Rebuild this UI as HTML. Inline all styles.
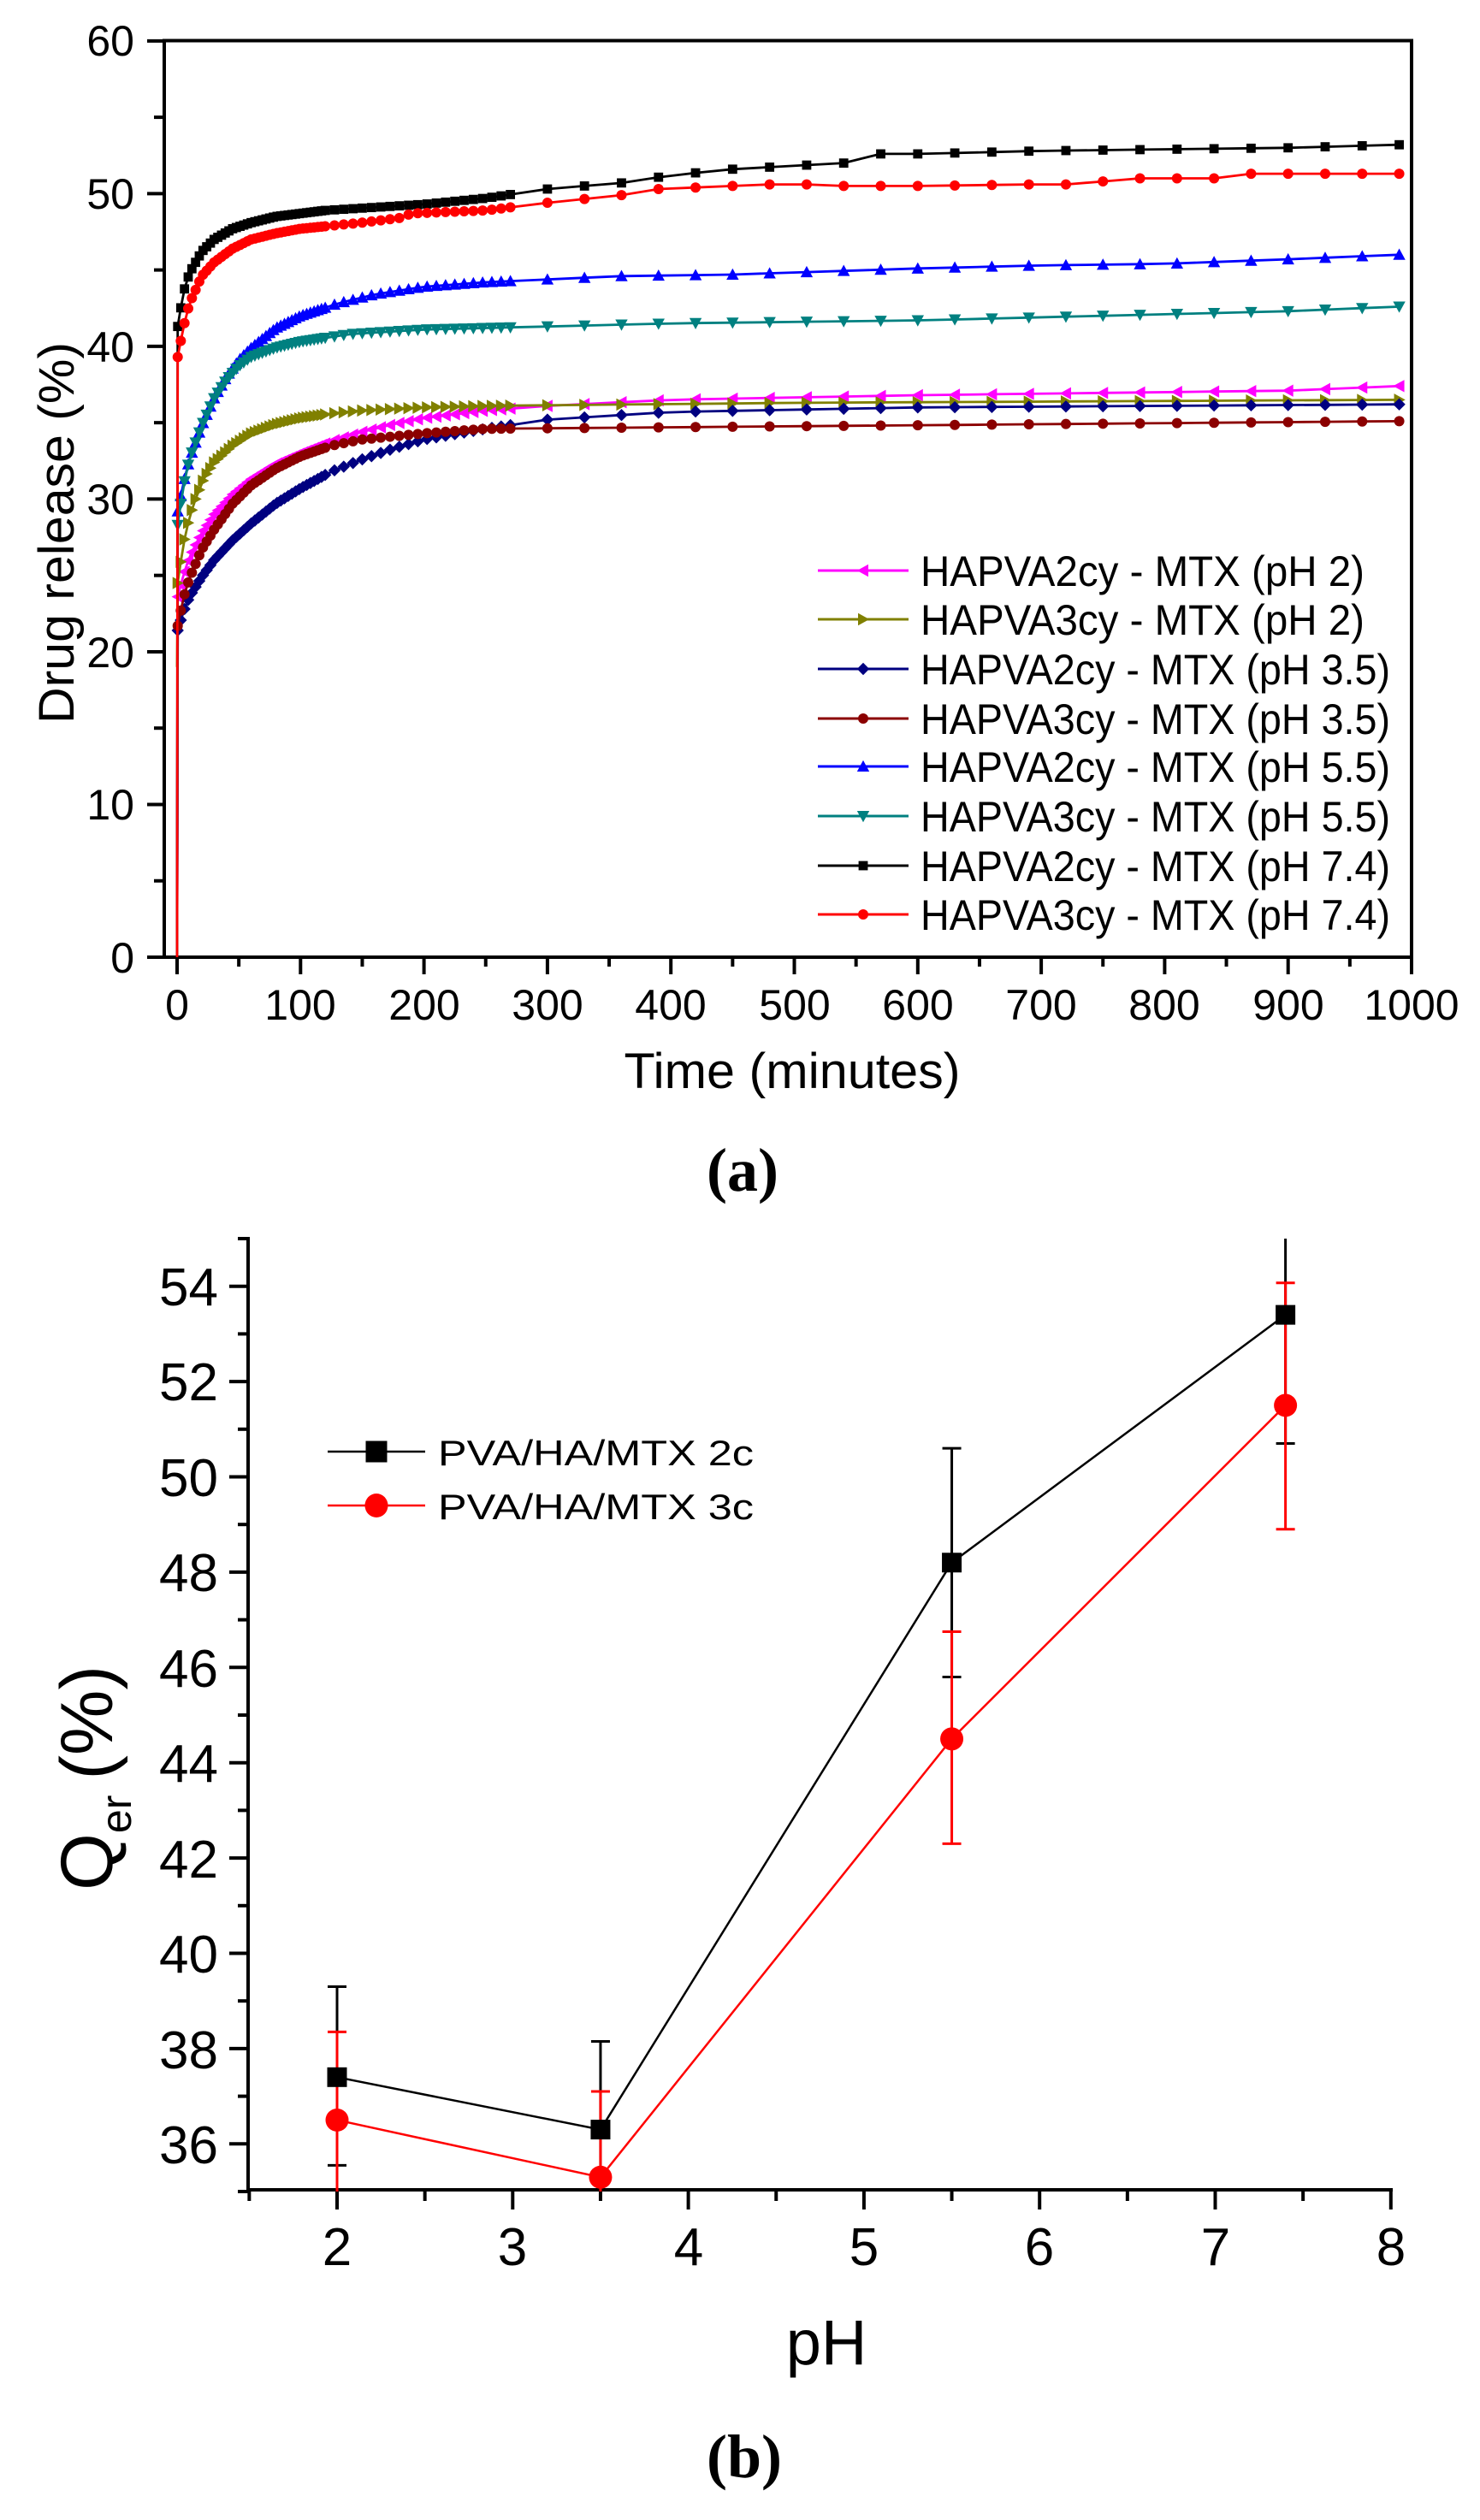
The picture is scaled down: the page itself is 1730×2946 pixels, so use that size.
<!DOCTYPE html>
<html><head><meta charset="utf-8"><style>html,body{margin:0;padding:0;background:#fff}svg{display:block}</style></head>
<body>
<svg id="s" xmlns="http://www.w3.org/2000/svg" width="1730" height="2946" viewBox="0 0 1730 2946" font-family="Liberation Sans, Arial, sans-serif">
<rect width="1730" height="2946" fill="#fff"/>
<g id="top"></g>
<g id="bot"></g>
<g font-size="50" fill="#000" text-anchor="end">
<text x="157" y="1137">0</text><text x="157" y="958">10</text><text x="157" y="780">20</text>
<text x="157" y="601">30</text><text x="157" y="423">40</text><text x="157" y="244">50</text><text x="157" y="65">60</text>
</g>
<g font-size="50" fill="#000" text-anchor="middle">
<text x="207" y="1192">0</text><text x="351" y="1192">100</text><text x="496" y="1192">200</text>
<text x="640" y="1192">300</text><text x="784" y="1192">400</text><text x="929" y="1192">500</text>
<text x="1073" y="1192">600</text><text x="1217" y="1192">700</text><text x="1361" y="1192">800</text>
<text x="1506" y="1192">900</text><text x="1650" y="1192">1000</text>
</g>
<text x="926" y="1272" font-size="58" text-anchor="middle" textLength="393" lengthAdjust="spacingAndGlyphs">Time (minutes)</text>
<text transform="translate(86,623) rotate(-90)" font-size="58" text-anchor="middle" textLength="446" lengthAdjust="spacingAndGlyphs">Drug release (%)</text>
<text x="868" y="1392" font-family="Liberation Serif, serif" font-size="72" font-weight="bold" text-anchor="middle">(a)</text>
<g font-size="50" fill="#000">
<text x="1076" y="685" textLength="519" lengthAdjust="spacingAndGlyphs">HAPVA2cy - MTX (pH 2)</text>
<text x="1076" y="742" textLength="519" lengthAdjust="spacingAndGlyphs">HAPVA3cy - MTX (pH 2)</text>
<text x="1076" y="800" textLength="549" lengthAdjust="spacingAndGlyphs">HAPVA2cy - MTX (pH 3.5)</text>
<text x="1076" y="858" textLength="549" lengthAdjust="spacingAndGlyphs">HAPVA3cy - MTX (pH 3.5)</text>
<text x="1076" y="914" textLength="549" lengthAdjust="spacingAndGlyphs">HAPVA2cy - MTX (pH 5.5)</text>
<text x="1076" y="972" textLength="549" lengthAdjust="spacingAndGlyphs">HAPVA3cy - MTX (pH 5.5)</text>
<text x="1076" y="1030" textLength="549" lengthAdjust="spacingAndGlyphs">HAPVA2cy - MTX (pH 7.4)</text>
<text x="1076" y="1087" textLength="549" lengthAdjust="spacingAndGlyphs">HAPVA3cy - MTX (pH 7.4)</text>
</g>
<g font-size="62" fill="#000" text-anchor="end">
<text x="255" y="2529">36</text><text x="255" y="2418">38</text><text x="255" y="2306">40</text>
<text x="255" y="2195">42</text><text x="255" y="2083">44</text><text x="255" y="1972">46</text>
<text x="255" y="1860">48</text><text x="255" y="1749">50</text><text x="255" y="1637">52</text><text x="255" y="1526">54</text>
</g>
<g font-size="62" fill="#000" text-anchor="middle">
<text x="394" y="2648">2</text><text x="599" y="2648">3</text><text x="805" y="2648">4</text>
<text x="1010" y="2648">5</text><text x="1215" y="2648">6</text><text x="1421" y="2648">7</text><text x="1626" y="2648">8</text>
</g>
<text x="966" y="2764" font-size="74" text-anchor="middle">pH</text>
<text transform="translate(131,2210) rotate(-90)" font-size="86">Q<tspan font-size="50" dy="22">er</tspan><tspan dy="-22" dx="18">(%)</tspan></text>
<text x="870" y="2896" font-family="Liberation Serif, serif" font-size="72" font-weight="bold" text-anchor="middle">(b)</text>
<g font-size="42" fill="#000">
<text x="512" y="1713" textLength="369" lengthAdjust="spacingAndGlyphs">PVA/HA/MTX 2c</text>
<text x="512" y="1776" textLength="369" lengthAdjust="spacingAndGlyphs">PVA/HA/MTX 3c</text>
</g>
</svg>
<script>
(function(){
var NS="http://www.w3.org/2000/svg";
function el(p,n,a){var e=document.createElementNS(NS,n);for(var k in a)e.setAttribute(k,a[k]);p.appendChild(e);return e;}
var top=document.getElementById("top"), bot=document.getElementById("bot");
function X(t){return 207+t*1.443;} function Y(v){return 1119-v*17.853;}
el(top,"rect",{x:192,y:47.5,width:1458,height:1071.5,fill:"none",stroke:"#000","stroke-width":4});
for(var v=0;v<=60;v+=5){var maj=v%10==0;el(top,"line",{x1:maj?172:180,x2:192,y1:Y(v),y2:Y(v),stroke:"#000","stroke-width":4});}
for(var t=0;t<=1000;t+=50){var maj=t%100==0;el(top,"line",{x1:X(t),x2:X(t),y1:1119,y2:maj?1139:1130,stroke:"#000","stroke-width":4});}
var S=[
 {c:"#ff00ff",m:"tl",k:[[0,0],[0.5,23.6],[5,25],[10,26.2],[20,27.8],[30,29],[45,30.3],[60,31.3],[80,32.3],[100,33],[125,33.8],[150,34.4],[175,34.9],[200,35.3],[250,35.8],[300,36.1],[400,36.5],[600,36.8],[800,37.0],[900,37.1],[990,37.4]]},
 {c:"#808000",m:"tr",k:[[0,19],[0.5,24.5],[5,27],[10,28.8],[15,30],[22,31.4],[30,32.4],[45,33.5],[60,34.3],[80,34.9],[100,35.3],[125,35.6],[150,35.8],[200,36.0],[250,36.1],[500,36.3],[990,36.5]]},
 {c:"#000080",m:"d",k:[[0,0],[0.5,21.4],[5,22.6],[10,23.6],[20,24.9],[30,26],[45,27.3],[60,28.4],[80,29.7],[100,30.7],[125,31.8],[150,32.6],[175,33.3],[200,33.9],[250,34.6],[300,35.2],[400,35.7],[600,36.0],[990,36.2]]},
 {c:"#8b0000",m:"c",k:[[0,0],[0.5,21.7],[5,23.5],[10,24.8],[20,26.7],[30,28],[45,29.7],[60,30.9],[80,32],[100,32.8],[125,33.5],[150,33.9],[200,34.3],[250,34.6],[400,34.7],[700,34.9],[990,35.1]]},
 {c:"#0000ff",m:"tu",k:[[0,0],[0.5,29.2],[5,31],[10,32.6],[20,34.8],[30,36.6],[40,38],[50,39.1],[60,39.9],[80,41.2],[100,42],[130,42.8],[160,43.4],[200,43.9],[250,44.2],[360,44.6],[450,44.7],[600,45.1],[700,45.3],[800,45.4],[900,45.7],[990,46.0]]},
 {c:"#008080",m:"td",k:[[0,0],[0.5,28.3],[5,30.8],[10,32.6],[20,34.8],[30,36.6],[40,37.8],[50,38.7],[60,39.3],[80,39.9],[100,40.3],[140,40.8],[200,41.1],[300,41.3],[400,41.5],[600,41.7],[800,42.1],[900,42.3],[990,42.6]]},
 {c:"#000000",m:"s",k:[[0,0],[0.5,41.3],[5,43.5],[10,44.8],[20,46.2],[30,47],[45,47.7],[60,48.1],[80,48.5],[100,48.7],[120,48.9],[200,49.3],[250,49.7],[300,50.3],[360,50.7],[400,51.2],[450,51.6],[540,52.0],[570,52.6],[600,52.6],[700,52.8],[800,52.9],[900,53.0],[990,53.2]]},
 {c:"#ff0000",m:"c",k:[[0,0],[0.5,39.3],[5,41.2],[10,42.8],[20,44.6],[30,45.5],[45,46.4],[60,47.0],[80,47.4],[100,47.7],[150,48.1],[180,48.4],[190,48.7],[250,48.9],[300,49.4],[360,49.9],[390,50.3],[450,50.5],[480,50.6],[510,50.6],[540,50.5],[600,50.5],[690,50.6],[720,50.6],[750,50.8],[780,51.0],[840,51.0],[870,51.3],[990,51.3]]}
];
function interp(k,t){for(var i=1;i<k.length;i++){if(t<=k[i][0]){var a=k[i-1],b=k[i];return a[1]+(b[1]-a[1])*(t-a[0])/(b[0]-a[0]);}}return k[k.length-1][1];}
var T=[0.5];for(var t=3;t<=120;t+=3)T.push(t);for(var t=127.5;t<=270;t+=7.5)T.push(t);for(var t=300;t<=990;t+=30)T.push(t);
function mark(g,m,x,y,c,s){s=s||1.2;var r=5*s;
 if(m=="s")el(g,"rect",{x:x-4.5*s,y:y-4.5*s,width:9*s,height:9*s,fill:c});
 else if(m=="c")el(g,"circle",{cx:x,cy:y,r:r,fill:c});
 else if(m=="d")el(g,"polygon",{points:[x,y-6*s,x+6*s,y,x,y+6*s,x-6*s,y].join(" "),fill:c});
 else if(m=="tu")el(g,"polygon",{points:[x,y-6*s,x+6*s,y+5*s,x-6*s,y+5*s].join(" "),fill:c});
 else if(m=="td")el(g,"polygon",{points:[x,y+6*s,x+6*s,y-5*s,x-6*s,y-5*s].join(" "),fill:c});
 else if(m=="tl")el(g,"polygon",{points:[x-6*s,y,x+5*s,y-6*s,x+5*s,y+6*s].join(" "),fill:c});
 else if(m=="tr")el(g,"polygon",{points:[x+6*s,y,x-5*s,y-6*s,x-5*s,y+6*s].join(" "),fill:c});}
var ly=[667,724,782,840,896,954,1012,1069];
S.forEach(function(s,i){
 var pts=[[X(0),Y(s.k[0][1])]];T.forEach(function(t){pts.push([X(t),Y(interp(s.k,t))]);});
 el(top,"polyline",{points:pts.map(function(p){return p[0].toFixed(1)+","+p[1].toFixed(1)}).join(" "),fill:"none",stroke:s.c,"stroke-width":2.8});
 T.forEach(function(t){mark(top,s.m,X(t),Y(interp(s.k,t)),s.c);});
 el(top,"line",{x1:956,x2:1062,y1:ly[i],y2:ly[i],stroke:s.c,"stroke-width":3});
 mark(top,s.m,1009,ly[i],s.c);
});
function PX(p){return 394+(p-2)*205.3;} function PY(v){return 2562-(v-35)*55.7;}
el(bot,"line",{x1:290,x2:290,y1:1446,y2:2562,stroke:"#000","stroke-width":4});
el(bot,"line",{x1:288,x2:1628,y1:2560,y2:2560,stroke:"#000","stroke-width":4});
for(var v=35;v<=55;v++){var maj=v%2==0;el(bot,"line",{x1:maj?268:278,x2:290,y1:PY(v),y2:PY(v),stroke:"#000","stroke-width":4});}
for(var p=1.5;p<=8.01;p+=0.5){var maj=Math.abs(p-Math.round(p))<0.01;el(bot,"line",{x1:PX(p),x2:PX(p),y1:2560,y2:maj?2583:2573,stroke:"#000","stroke-width":4});}
var B=[[2,37.4,39.3,35.55],[3.5,36.3,38.15,35],[5.5,48.2,50.6,45.8],[7.4,53.4,55,50.7]];
var R=[[2,36.5,38.35,35],[3.5,35.3,37.1,35],[5.5,44.5,46.75,42.3],[7.4,51.5,54.07,48.9]];
function eb(d,c){d.forEach(function(q){var x=PX(q[0]);el(bot,"line",{x1:x,x2:x,y1:PY(q[2]),y2:PY(q[3]),stroke:c,"stroke-width":3});
 if(q[2]<55)el(bot,"line",{x1:x-11,x2:x+11,y1:PY(q[2]),y2:PY(q[2]),stroke:c,"stroke-width":3});
 if(q[3]>35)el(bot,"line",{x1:x-11,x2:x+11,y1:PY(q[3]),y2:PY(q[3]),stroke:c,"stroke-width":3});});}
eb(B,"#000");eb(R,"#f00");
el(bot,"polyline",{points:B.map(function(q){return PX(q[0])+","+PY(q[1])}).join(" "),fill:"none",stroke:"#000","stroke-width":2.5});
el(bot,"polyline",{points:R.map(function(q){return PX(q[0])+","+PY(q[1])}).join(" "),fill:"none",stroke:"#f00","stroke-width":2.5});
B.forEach(function(q){el(bot,"rect",{x:PX(q[0])-11.5,y:PY(q[1])-11.5,width:23,height:23,fill:"#000"});});
R.forEach(function(q){el(bot,"circle",{cx:PX(q[0]),cy:PY(q[1]),r:13.5,fill:"#f00"});});
el(bot,"line",{x1:383,x2:497,y1:1697,y2:1697,stroke:"#000","stroke-width":2.5});
el(bot,"rect",{x:427.5,y:1684.5,width:25,height:25,fill:"#000"});
el(bot,"line",{x1:383,x2:497,y1:1760,y2:1760,stroke:"#f00","stroke-width":2.5});
el(bot,"ellipse",{cx:440,cy:1760,rx:13.5,ry:14,fill:"#f00"});
})();
</script>
</body></html>
